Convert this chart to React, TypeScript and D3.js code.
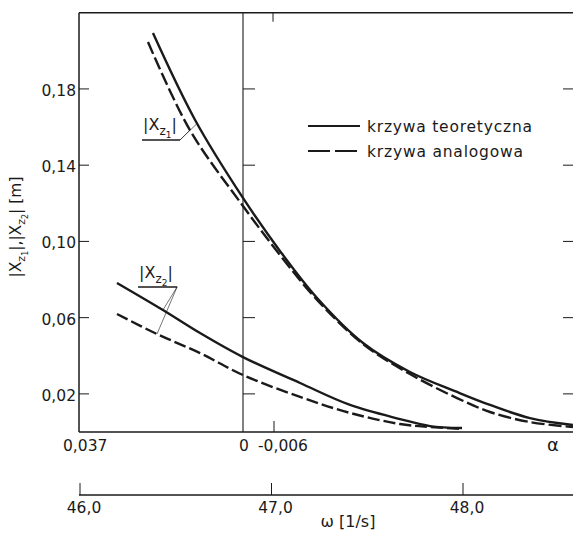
import React from 'react';
import * as d3 from 'd3';

// ---- axis ticks ----
const yTicks = [0.02, 0.06, 0.1, 0.14, 0.18];
const yTickLabels = ['0,02', '0,06', '0,10', '0,14', '0,18'];
const omegaTicks = [46, 47, 48];
const omegaTickLabels = ['46,0', '47,0', '48,0'];
const alphaTicks = [0.037, 0, -0.006];
const alphaTickLabels = ['0,037', '0', '-0,006'];

// ---- series (omega [1/s], |X| [m]) ----
const xz1TheorOmega = [46.381, 46.601, 46.851, 47.044, 47.238, 47.478, 47.723, 47.969, 48.141, 48.35, 48.574];
const xz1TheorVal = [0.2093, 0.1637, 0.1228, 0.095, 0.0703, 0.0467, 0.0315, 0.021, 0.0142, 0.0073, 0.0037];
const xz1AnalogOmega = [46.355, 46.574, 46.851, 47.044, 47.238, 47.478, 47.723, 47.969, 48.141, 48.35, 48.574];
const xz1AnalogVal = [0.2046, 0.1584, 0.1186, 0.0929, 0.0693, 0.0462, 0.0304, 0.0178, 0.0105, 0.0052, 0.0026];
const xz2TheorOmega = [46.193, 46.433, 46.627, 46.851, 47.149, 47.41, 47.671, 47.828, 47.995];
const xz2TheorVal = [0.0782, 0.064, 0.0519, 0.0393, 0.0257, 0.0142, 0.0068, 0.0031, 0.0021];
const xz2AnalogOmega = [46.193, 46.402, 46.627, 46.851, 47.149, 47.41, 47.671, 47.828, 47.995];
const xz2AnalogVal = [0.0619, 0.0514, 0.0414, 0.0299, 0.0184, 0.01, 0.0042, 0.0026, 0.0016];

const legendLabels = ['krzywa teoretyczna', 'krzywa analogowa'];

const W = 573;
const H = 538;
const FONT = 'DejaVu Sans, Verdana, sans-serif';
const INK = '#1a1a1a';

export default function App() {
  const x = d3.scaleLinear().domain([46, 48]).range([80, 463]);
  const y = d3.scaleLinear().domain([0, 0.22]).range([432, 12.7]);
  const xa = d3.scaleLinear().domain(alphaTicks).range([79, 243, 274]);

  const left = 79;
  const right = 573;
  const top = y(0.22);
  const bottom = y(0);
  const omegaAxisY = 495;
  const midX = xa(0);

  const line = d3
    .line<[number, number]>()
    .x((d) => x(d[0]))
    .y((d) => y(d[1]))
    .curve(d3.curveCatmullRom.alpha(0.5));

  const zip = (a: number[], b: number[]) => a.map((v, i) => [v, b[i]] as [number, number]);
  const series = [
    { d: zip(xz1TheorOmega, xz1TheorVal), dash: undefined },
    { d: zip(xz1AnalogOmega, xz1AnalogVal), dash: '13 4' },
    { d: zip(xz2TheorOmega, xz2TheorVal), dash: undefined },
    { d: zip(xz2AnalogOmega, xz2AnalogVal), dash: '12 4' },
  ];

  const at = (om: number[], v: number[], w: number) => d3.scaleLinear().domain(om).range(v)(w);

  // label leaders (data units)
  const l1 = { o0: 46.324, o1: 46.522, v: 0.1532 };
  const l1a = { o: 46.574, v: at(xz1AnalogOmega, xz1AnalogVal, 46.574) };
  const l1t = { o: 46.612, v: at(xz1TheorOmega, xz1TheorVal, 46.612) };
  const l2 = { o0: 46.303, o1: 46.507, v: 0.0761 };
  const l2t = { o: 46.433, v: at(xz2TheorOmega, xz2TheorVal, 46.433) };
  const l2a = { o: 46.402, v: at(xz2AnalogOmega, xz2AnalogVal, 46.402) };

  const sub = (n: string) => (
    <>
      <tspan dy={5} fontSize={12}>z</tspan>
      <tspan dy={3} fontSize={9}>{n}</tspan>
      <tspan dy={-8} fontSize={16}>|</tspan>
    </>
  );

  return (
    <svg width={W} height={H} style={{ position: 'absolute', left: 0, top: 0, background: '#fff' }} fontFamily={FONT}>
      <rect width={W} height={H} fill="#fff" />
      {/* frame */}
      <line x1={left} x2={left} y1={top} y2={bottom} stroke={INK} strokeWidth={1.5} />
      <line x1={left} x2={right} y1={top} y2={top} stroke={INK} strokeWidth={1.4} />
      <line x1={left} x2={right} y1={bottom} y2={bottom} stroke={INK} strokeWidth={1.5} />
      <line x1={midX} x2={midX} y1={top} y2={bottom} stroke={INK} strokeWidth={1.1} />

      {/* y ticks */}
      {yTicks.map((t, i) => (
        <g key={t}>
          <line x1={left} x2={left + 10} y1={y(t)} y2={y(t)} stroke={INK} strokeWidth={1} />
          <line x1={midX} x2={midX + 12} y1={y(t)} y2={y(t)} stroke={INK} strokeWidth={1} />
          <line x1={right - 10} x2={right} y1={y(t)} y2={y(t)} stroke={INK} strokeWidth={1} />
          <text x={left - 3} y={y(t) + 7} textAnchor="end" fontSize={15.5} fill={INK}>
            {yTickLabels[i]}
          </text>
        </g>
      ))}

      {/* alpha axis ticks */}
      <line x1={xa(-0.006)} x2={xa(-0.006)} y1={bottom - 11} y2={bottom} stroke={INK} strokeWidth={1} />
      <line x1={xa(-0.006) - 1} x2={xa(-0.006) - 1} y1={top} y2={top + 9} stroke={INK} strokeWidth={1} />
      {alphaTicks.map((t, i) => (
        <text
          key={t}
          x={t === 0 ? xa(t) + 1 : xa(t) - 16}
          y={bottom + 19}
          textAnchor={t === 0 ? 'middle' : 'start'}
          fontSize={15.5}
          fill={INK}
        >
          {alphaTickLabels[i]}
        </text>
      ))}
      <text x={553} y={bottom + 19} textAnchor="middle" fontSize={18} fill={INK}>α</text>

      {/* omega axis */}
      <line x1={left} x2={right} y1={omegaAxisY} y2={omegaAxisY} stroke={INK} strokeWidth={1.4} />
      {omegaTicks.map((t, i) => (
        <g key={t}>
          <line x1={x(t)} x2={x(t)} y1={omegaAxisY - 12} y2={omegaAxisY} stroke={INK} strokeWidth={1} />
          <text x={x(t) + 4} y={omegaAxisY + 18} textAnchor="middle" fontSize={15.5} fill={INK}>
            {omegaTickLabels[i]}
          </text>
        </g>
      ))}
      <text x={348} y={527} textAnchor="middle" fontSize={16} fill={INK}>ω [1/s]</text>

      {/* y title */}
      <text transform={`translate(21,227) rotate(-90)`} textAnchor="middle" fontSize={15.5} fill={INK}>
        |X<tspan dy={4} fontSize={11}>z</tspan>
        <tspan dy={3} fontSize={8}>1</tspan>
        <tspan dy={-7} fontSize={15.5}>|,|X</tspan>
        <tspan dy={4} fontSize={11}>z</tspan>
        <tspan dy={3} fontSize={8}>2</tspan>
        <tspan dy={-7} fontSize={15.5}>| [m]</tspan>
      </text>

      {/* curves */}
      {series.map((s, i) => (
        <path key={i} d={line(s.d) || ''} fill="none" stroke={INK} strokeWidth={2.4} strokeDasharray={s.dash} />
      ))}

      {/* curve labels */}
      <line x1={x(l1.o0)} x2={x(l1.o1)} y1={y(l1.v)} y2={y(l1.v)} stroke={INK} strokeWidth={1.5} />
      <line x1={x(l1.o1)} y1={y(l1.v)} x2={x(l1a.o)} y2={y(l1a.v)} stroke={INK} strokeWidth={0.6} />
      <line x1={x(l1.o1)} y1={y(l1.v)} x2={x(l1t.o)} y2={y(l1t.v)} stroke={INK} strokeWidth={0.6} />
      <text x={x(l1.o0) + 1} y={y(l1.v) - 10} fontSize={16} fill={INK}>
        |X{sub('1')}
      </text>
      <line x1={x(l2.o0)} x2={x(l2.o1)} y1={y(l2.v)} y2={y(l2.v)} stroke={INK} strokeWidth={1.5} />
      <line x1={x(l2.o1)} y1={y(l2.v)} x2={x(l2t.o)} y2={y(l2t.v)} stroke={INK} strokeWidth={0.6} />
      <line x1={x(l2.o1)} y1={y(l2.v)} x2={x(l2a.o)} y2={y(l2a.v)} stroke={INK} strokeWidth={0.6} />
      <text x={x(l2.o0) + 1} y={y(l2.v) - 9} fontSize={16} fill={INK}>
        |X{sub('2')}
      </text>

      {/* legend */}
      <line x1={308} x2={360} y1={126} y2={126} stroke={INK} strokeWidth={2} />
      <line x1={308} x2={360} y1={151} y2={151} stroke={INK} strokeWidth={2.2} strokeDasharray="22 5" />
      <text x={367} y={132} fontSize={15.5} fill={INK} textLength={165} lengthAdjust="spacing">
        {legendLabels[0]}
      </text>
      <text x={367} y={157} fontSize={15.5} fill={INK} textLength={156} lengthAdjust="spacing">
        {legendLabels[1]}
      </text>
    </svg>
  );
}
